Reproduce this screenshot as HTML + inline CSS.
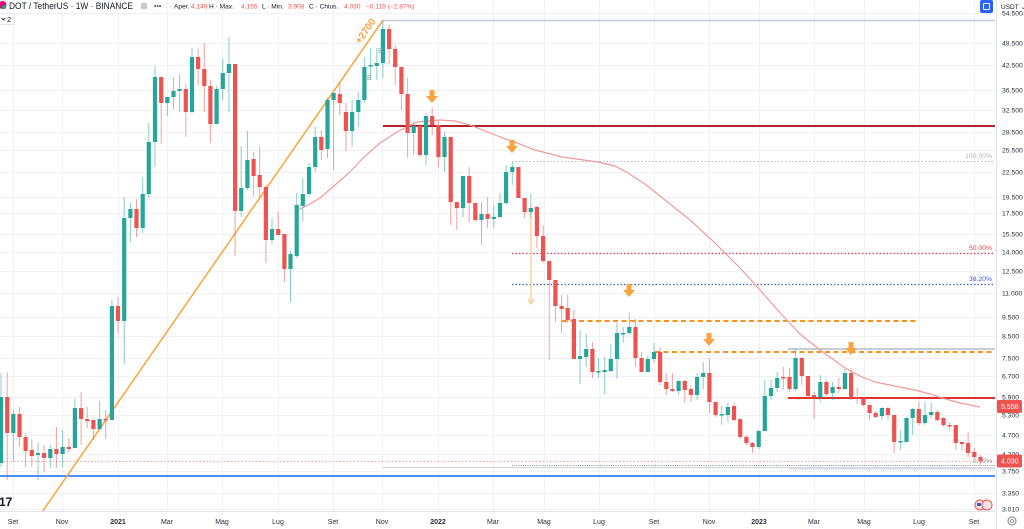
<!DOCTYPE html>
<html><head><meta charset="utf-8"><style>
html,body{margin:0;padding:0;background:#fff;}
body{width:1024px;height:529px;overflow:hidden;}
svg{display:block;font-family:"Liberation Sans",sans-serif;}
</style></head><body>
<svg width="1024" height="529" viewBox="0 0 1024 529" xmlns="http://www.w3.org/2000/svg">
<rect width="1024" height="529" fill="#fff"/>
<!-- grid -->
<g stroke="#eff1f5" stroke-width="1">
<path d="M13.5 0V511M62.5 0V511M118.5 0V511M167.5 0V511M222.5 0V511M278.5 0V511M333.5 0V511M382.5 0V511M438.5 0V511M493.5 0V511M544.5 0V511M599.5 0V511M654.5 0V511M709.5 0V511M759.5 0V511M814.5 0V511M864.5 0V511M919.5 0V511M974.5 0V511"/>
<path d="M0 13.5H996M0 43.5H996M0 65.5H996M0 90.5H996M0 110.5H996M0 132.5H996M0 150.5H996M0 172.5H996M0 197.5H996M0 213.5H996M0 234.5H996M0 252.5H996M0 271.5H996M0 293.5H996M0 317.5H996M0 336.5H996M0 358.5H996M0 376.5H996M0 397.5H996M0 415.5H996M0 435.5H996M0 454.5H996M0 471.5H996M0 493.5H996M0 509.5H996"/>
</g>
<!-- fib / level lines -->
<path d="M512 161.5H995" stroke="#b8bbc5" stroke-width="1" stroke-dasharray="1.5 2"/>
<path d="M512 253.5H995" stroke="#e0404c" stroke-width="1.2" stroke-dasharray="1.5 2"/>
<path d="M512 284.5H995" stroke="#2f5fc4" stroke-width="1.2" stroke-dasharray="1.5 2"/>
<path d="M0 461.5H995" stroke="#f5a3a3" stroke-width="1" stroke-dasharray="1.5 2"/>
<path d="M382 467.5H995" stroke="#d1d4dc" stroke-width="1"/>
<path d="M512 465.5H995" stroke="#8a8d96" stroke-width="1" stroke-dasharray="1 1.2"/>
<rect x="789" y="467" width="206" height="2.5" fill="#d8dbe3"/>
<path d="M0 476H995" stroke="#4f8ef7" stroke-width="2"/>
<path d="M383 20.5H995" stroke="#c5c8d6" stroke-width="1.5"/>
<path d="M383 126H995" stroke="#b0222e" stroke-width="2"/>
<path d="M788 349H995" stroke="#b8bbc5" stroke-width="1.5"/>
<path d="M788 398H995" stroke="#e0312f" stroke-width="2"/>
<path d="M562 321H918" stroke="#f7931e" stroke-width="2" stroke-dasharray="5 3.5"/>
<path d="M655 352H993" stroke="#f7931e" stroke-width="2" stroke-dasharray="5 3.5"/>
<!-- MA -->
<path d="M298 210L310 204L320 198L335 185L350 172L363 158L380 143L397 132L417 122L440 120L455 121L470 125L485 131L500 137L517 143L535 150L562 157L598 162L615 166L628 173L645 184L665 200L690 220L715 243L740 268L760 290L783 316L800 334L815 346L827 355L845 368L860 376L875 382L895 386L915 390L930 394L942 398L960 403L980 407" fill="none" stroke="#f19a9a" stroke-width="1.2"/>
<!-- trendline -->
<path d="M40 515L383 20" stroke="#f9a43c" stroke-width="1.5"/>
<text transform="translate(368,33) rotate(-55.3)" text-anchor="middle" font-weight="bold" font-size="10" fill="#f9a43c">+2700</text>
<!-- thin orange arrow -->
<path d="M531 212V303M528 299L531 304L534 299" stroke="#fbc98a" stroke-width="1.2" fill="none"/>
<!-- candles -->
<g stroke-width="1" fill="none">
<path stroke="#26a69a" stroke-opacity="0.55" d="M1 373V467M13.3 410V462M38 443V480M50.3 445V468M62.6 430V467M74.9 399V448M99.6 401V430M111.9 300V420M124.2 197V364M130.4 203V242M142.7 177V233M148.8 123V198M155 66V167M167.3 97V116M173.5 77V109M179.6 74V112M192 48V113M216.6 86V124M222.8 59V100M228.9 37V112M241.2 146V217M247.4 131V190M272 218V244M290.5 251V302M296.7 193V258M302.8 178V221M309 163V196M315.2 127V172M327.5 98V158M333.6 93V170M352.1 100V147M358.3 92V127M364.4 57V103M370.6 48V80M376.8 48V80M382.9 21V78M413.7 122V155M426 113V165M444.5 132V172M463 176V217M481.5 202V245M493.8 205V228M500 193V218M506.1 165V205M512.3 162V185M530.8 194V218M580 330V384M586.2 334V367M598.5 358V378M604.7 357V394M610.8 344V372M617 323V379M623.2 327V343M629.3 313V335M647.8 356V372M654 343V363M678.6 380V395M697.1 373V400M703.2 362V389M721.7 406V425M727.9 403V422M758.7 430V449M764.8 380V431M771 380V400M777.2 372V392M795.6 348V391M820.3 375V402M832.6 382V400M844.9 369V390M881.9 407V420M900.4 430V450M906.5 417V442M912.7 408V435M925 402V425M931.2 403V418"/>
<path stroke="#ef5350" stroke-opacity="0.55" d="M7.2 372V480M19.5 407V447M25.6 433V467M31.8 439V467M44.1 445V472M56.4 427V468M68.8 438V452M81.1 392V445M87.2 407V428M93.4 420V440M105.7 410V439M118 297V333M136.5 199V237M161.2 77V144M185.8 84V137M198.1 49V85M204.3 43V112M210.4 80V143M235.1 64V256M253.6 152V196M259.7 147V197M265.9 185V263M278.2 212V235M284.4 234V282M321.3 130V160M339.8 83V115M346 103V151M389.1 25V64M395.2 45V85M401.4 67V110M407.6 78V158M419.9 124V157M432.2 108V135M438.4 121V167M450.7 137V225M456.8 202V230M469.2 167V222M475.3 203V222M487.6 197V228M518.4 167V198M524.6 198V218M536.9 206V248M543.1 225V263M549.2 261V360M555.4 280V322M561.6 295V333M567.7 295V323M573.9 310V359M592.4 342V378M635.5 319V367M641.6 352V372M660.1 347V385M666.3 373V395M672.4 373V392M684.8 380V403M690.9 385V402M709.4 358V413M715.6 402V417M734 403V421M740.2 419V439M746.4 435V445M752.5 442V453M783.3 367V390M789.5 368V392M801.8 357V385M808 376V398M814.1 392V419M826.4 380V396M838.8 378V393M851.1 368V400M857.2 388V404M863.4 397V407M869.6 405V420M875.7 411V418M888 407V420M894.2 415V453M918.8 402V425M937.3 410V422M943.5 417V427M949.6 422V430M955.8 425V450M962 442V450M968.1 432V457M974.3 448V458M980.4 455V465"/>
</g>
<path fill="#26a69a" d="M-1.1 397h4.2V463h-4.2ZM11.2 414h4.2V433h-4.2ZM35.9 453h4.2V455h-4.2ZM48.2 449h4.2V458h-4.2ZM60.5 447h4.2V454h-4.2ZM72.8 408h4.2V448h-4.2ZM97.5 419h4.2V429h-4.2ZM109.8 306h4.2V420h-4.2ZM122.1 218h4.2V321h-4.2ZM128.3 209h4.2V218h-4.2ZM140.6 194h4.2V228h-4.2ZM146.7 142h4.2V194h-4.2ZM152.9 77h4.2V142h-4.2ZM165.2 97h4.2V103h-4.2ZM171.4 91h4.2V97h-4.2ZM177.5 89h4.2V91h-4.2ZM189.9 57h4.2V112h-4.2ZM214.5 89h4.2V124h-4.2ZM220.7 73h4.2V89h-4.2ZM226.8 64h4.2V73h-4.2ZM239.1 188h4.2V211h-4.2ZM245.3 160h4.2V188h-4.2ZM269.9 229h4.2V240h-4.2ZM288.4 254h4.2V269h-4.2ZM294.6 205h4.2V256h-4.2ZM300.7 194h4.2V206h-4.2ZM306.9 167h4.2V194h-4.2ZM313.1 137h4.2V167h-4.2ZM325.4 100h4.2V149h-4.2ZM331.5 93h4.2V100h-4.2ZM350 112h4.2V131h-4.2ZM356.2 100h4.2V112h-4.2ZM362.3 67h4.2V100h-4.2ZM368.5 65h4.2V66.5h-4.2ZM374.7 63h4.2V66h-4.2ZM380.8 29h4.2V63h-4.2ZM411.6 126h4.2V133h-4.2ZM423.9 116h4.2V155h-4.2ZM442.4 137h4.2V157h-4.2ZM460.9 176h4.2V208h-4.2ZM479.4 214h4.2V220h-4.2ZM491.7 217h4.2V219h-4.2ZM497.9 203h4.2V217h-4.2ZM504 172h4.2V203h-4.2ZM510.2 167h4.2V172h-4.2ZM528.7 208h4.2V212h-4.2ZM577.9 356h4.2V359h-4.2ZM584.1 349h4.2V357h-4.2ZM596.4 371h4.2V372.5h-4.2ZM602.6 370h4.2V372h-4.2ZM608.7 359h4.2V371h-4.2ZM614.9 333h4.2V359h-4.2ZM621.1 333h4.2V334.5h-4.2ZM627.2 327h4.2V333h-4.2ZM645.7 359h4.2V372h-4.2ZM651.9 352h4.2V359h-4.2ZM676.5 381h4.2V391h-4.2ZM695 377h4.2V395h-4.2ZM701.1 373h4.2V377h-4.2ZM719.6 414h4.2V415.5h-4.2ZM725.8 407h4.2V415h-4.2ZM756.6 431h4.2V447h-4.2ZM762.7 396h4.2V431h-4.2ZM768.9 388h4.2V396h-4.2ZM775.1 378h4.2V388h-4.2ZM793.5 358h4.2V389h-4.2ZM818.2 382h4.2V397h-4.2ZM830.5 387h4.2V393h-4.2ZM842.8 373h4.2V389h-4.2ZM879.8 408h4.2V416h-4.2ZM898.3 441h4.2V442.5h-4.2ZM904.4 418h4.2V442h-4.2ZM910.6 409h4.2V418h-4.2ZM922.9 415h4.2V423h-4.2ZM929.1 412h4.2V415h-4.2Z"/>
<path fill="#ef5350" d="M5.1 397h4.2V433h-4.2ZM17.4 414h4.2V437h-4.2ZM23.5 437h4.2V451h-4.2ZM29.7 450h4.2V456h-4.2ZM42 453h4.2V458h-4.2ZM54.3 449h4.2V454h-4.2ZM66.7 447h4.2V449h-4.2ZM79 408h4.2V419h-4.2ZM85.1 419h4.2V421h-4.2ZM91.3 420h4.2V429h-4.2ZM103.6 419h4.2V420.5h-4.2ZM115.9 306h4.2V321h-4.2ZM134.4 209h4.2V228h-4.2ZM159.1 77h4.2V103h-4.2ZM183.7 89h4.2V112h-4.2ZM196 57h4.2V69h-4.2ZM202.2 69h4.2V86h-4.2ZM208.3 86h4.2V124h-4.2ZM233 64h4.2V211h-4.2ZM251.5 159h4.2V176h-4.2ZM257.6 175h4.2V187h-4.2ZM263.8 187h4.2V240h-4.2ZM276.1 229h4.2V235h-4.2ZM282.3 234h4.2V269h-4.2ZM319.2 137h4.2V150h-4.2ZM337.7 94h4.2V103h-4.2ZM343.9 112h4.2V131h-4.2ZM387 29h4.2V49h-4.2ZM393.1 49h4.2V67h-4.2ZM399.3 67h4.2V94h-4.2ZM405.5 94h4.2V133h-4.2ZM417.8 126h4.2V155h-4.2ZM430.1 116h4.2V125h-4.2ZM436.3 125h4.2V157h-4.2ZM448.6 137h4.2V202h-4.2ZM454.7 202h4.2V208h-4.2ZM467.1 176h4.2V203h-4.2ZM473.2 203h4.2V220h-4.2ZM485.5 214h4.2V219h-4.2ZM516.3 167h4.2V198h-4.2ZM522.5 198h4.2V212h-4.2ZM534.8 207h4.2V236h-4.2ZM541 236h4.2V261h-4.2ZM547.1 261h4.2V280h-4.2ZM553.3 280h4.2V306h-4.2ZM559.5 306h4.2V309h-4.2ZM565.6 308h4.2V320h-4.2ZM571.8 319h4.2V359h-4.2ZM590.3 349h4.2V372h-4.2ZM633.4 327h4.2V358h-4.2ZM639.5 358h4.2V372h-4.2ZM658 352h4.2V382h-4.2ZM664.2 382h4.2V389h-4.2ZM670.3 389h4.2V391h-4.2ZM682.7 381h4.2V390h-4.2ZM688.8 389h4.2V395h-4.2ZM707.3 373h4.2V402h-4.2ZM713.5 402h4.2V415h-4.2ZM731.9 406h4.2V420h-4.2ZM738.1 419h4.2V437h-4.2ZM744.3 437h4.2V443h-4.2ZM750.4 443h4.2V447h-4.2ZM781.2 377h4.2V378.5h-4.2ZM787.4 377h4.2V389h-4.2ZM799.7 358h4.2V376h-4.2ZM805.9 376h4.2V396h-4.2ZM812 395h4.2V398h-4.2ZM824.3 382h4.2V394h-4.2ZM836.7 387h4.2V389h-4.2ZM849 373h4.2V398h-4.2ZM855.1 397h4.2V398.5h-4.2ZM861.3 398h4.2V405h-4.2ZM867.5 405h4.2V413h-4.2ZM873.6 413h4.2V417h-4.2ZM885.9 408h4.2V415h-4.2ZM892.1 415h4.2V442h-4.2ZM916.7 409h4.2V423h-4.2ZM935.2 412h4.2V420h-4.2ZM941.4 418h4.2V425h-4.2ZM947.5 425h4.2V426.5h-4.2ZM953.7 425h4.2V443h-4.2ZM959.9 442h4.2V444h-4.2ZM966 443h4.2V453h-4.2ZM972.2 452h4.2V457h-4.2ZM978.3 457h4.2V461h-4.2Z"/>
<!-- B markers -->
<text x="378" y="53" font-size="7" fill="#9598a1">B</text>
<text x="367" y="80" font-size="7" fill="#9598a1">B</text>
<!-- orange arrows -->
<g fill="#f9a43c">
<path d="M429.5 90h5v6h3.5l-6 7l-6-7h3.5Z"/>
<path d="M509.5 140h5v6h3.5l-6 7l-6-7h3.5Z"/>
<path d="M626.5 284h5v6h3.5l-6 7l-6-7h3.5Z"/>
<path d="M706.5 333h5v6h3.5l-6 7l-6-7h3.5Z"/>
<path d="M848.5 342h5v6h3.5l-6 7l-6-7h3.5Z"/>
</g>
<!-- fib labels -->
<g font-size="6.8" text-anchor="end">
<text x="992" y="158" fill="#b2b5be">100.00%</text>
<text x="992" y="250" fill="#e0404c">50.00%</text>
<text x="992" y="281" fill="#2f5fc4">38.20%</text>
<text x="992" y="463" fill="#9598a1">0.00%</text>
</g>
<!-- flags icon -->
<circle cx="980" cy="505" r="5" fill="#fbe3e3" stroke="#e55" stroke-width="1"/>
<circle cx="987" cy="505" r="5" fill="#fbe3e3" stroke="#e55" stroke-width="1"/>
<rect x="977" y="503" width="4" height="3" fill="#3860c8"/>
<!-- TV logo -->
<text x="-1" y="506" font-size="12" font-weight="bold" fill="#131722">17</text>
<!-- axes borders -->
<rect x="996" y="0" width="28" height="529" fill="#fff"/>
<rect x="0" y="512" width="1024" height="17" fill="#fff"/>
<path d="M996.5 0V529M0 511.5H996" stroke="#e0e3eb" stroke-width="1"/>
<!-- right axis labels -->
<g font-size="6.8" fill="#2a2e39">
<text x="1002" y="15.5">54.500</text>
<text x="1002" y="45.5">48.500</text>
<text x="1002" y="67.5">42.500</text>
<text x="1002" y="92.5">36.500</text>
<text x="1002" y="112.5">32.500</text>
<text x="1002" y="134.5">28.500</text>
<text x="1002" y="152.5">25.500</text>
<text x="1002" y="174.5">22.500</text>
<text x="1002" y="199.5">19.500</text>
<text x="1002" y="215.5">17.500</text>
<text x="1002" y="236.5">15.500</text>
<text x="1002" y="254.5">14.000</text>
<text x="1002" y="273.5">12.500</text>
<text x="1002" y="295.5">11.000</text>
<text x="1002" y="319.5">9.500</text>
<text x="1002" y="338.5">8.500</text>
<text x="1002" y="360.5">7.500</text>
<text x="1002" y="378.5">6.700</text>
<text x="1002" y="399.5">5.900</text>
<text x="1002" y="417.5">5.300</text>
<text x="1002" y="437.5">4.700</text>
<text x="1002" y="456.5">4.200</text>
<text x="1002" y="473.5">3.750</text>
<text x="1002" y="495.5">3.350</text>
<text x="1002" y="511.5">3.010</text>
</g>
<rect x="997" y="400" width="25" height="13" rx="1.5" fill="#ef5350"/>
<text x="1001" y="409" font-size="7" fill="#fff">5.558</text>
<rect x="997" y="454.5" width="25" height="13" rx="1.5" fill="#ef5350"/>
<text x="1001" y="463.5" font-size="7" fill="#fff">4.030</text>
<!-- top right -->
<rect x="980" y="0" width="13" height="13" rx="2" fill="#2962ff"/>
<rect x="983.5" y="3.5" width="6" height="6" rx="1" fill="none" stroke="#fff" stroke-width="1"/>
<text x="1001" y="9" font-size="6.5" fill="#131722">USDT ⌄</text>
<!-- bottom axis labels -->
<g font-size="7" fill="#2a2e39" text-anchor="middle">
<text x="13" y="524">Set</text>
<text x="62" y="524">Nov</text>
<text x="118" y="524" font-weight="bold">2021</text>
<text x="167" y="524">Mar</text>
<text x="222" y="524">Mag</text>
<text x="278" y="524">Lug</text>
<text x="333" y="524">Set</text>
<text x="382" y="524">Nov</text>
<text x="438" y="524" font-weight="bold">2022</text>
<text x="493" y="524">Mar</text>
<text x="544" y="524">Mag</text>
<text x="599" y="524">Lug</text>
<text x="654" y="524">Set</text>
<text x="709" y="524">Nov</text>
<text x="759" y="524" font-weight="bold">2023</text>
<text x="814" y="524">Mar</text>
<text x="864" y="524">Mag</text>
<text x="919" y="524">Lug</text>
<text x="974" y="524">Set</text>
</g>
<circle cx="1012" cy="521" r="4" fill="none" stroke="#787b86" stroke-width="1"/>
<circle cx="1012" cy="521" r="1.5" fill="none" stroke="#787b86" stroke-width="0.8"/>
<!-- header -->
<rect x="0" y="0" width="166" height="13" fill="#fff" opacity="0.9"/>
<circle cx="2.5" cy="5" r="4" fill="#e6007a"/>
<circle cx="4" cy="7" r="2.2" fill="#26a17b"/>
<text x="9" y="9.2" font-size="8.8" fill="#131722" textLength="124" lengthAdjust="spacingAndGlyphs">DOT / TetherUS · 1W · BINANCE</text>
<rect x="141" y="3" width="6" height="6" fill="#c7c9cf"/>
<text x="154" y="8.5" font-size="7" fill="#555">•••</text>
<g font-size="6.6" fill="#131722">
<text x="169" y="8.5">·</text>
<text x="174" y="8.5">Aper.</text>
<text x="191" y="8.5" fill="#ef5350">4.149</text>
<text x="209" y="8.5">H · Max.</text>
<text x="241" y="8.5" fill="#ef5350">4.155</text>
<text x="262" y="8.5">L · Min.</text>
<text x="288" y="8.5" fill="#ef5350">3.908</text>
<text x="309" y="8.5">C · Chius.</text>
<text x="344" y="8.5" fill="#ef5350">4.030</text>
<text x="366" y="8.5" fill="#ef5350">−0.119 (−2.87%)</text>
</g>
<rect x="-1" y="13.5" width="15" height="11" fill="#fff" stroke="#e0e3eb" stroke-width="1"/>
<path d="M1.5 18l1.8 2l1.8-2" fill="none" stroke="#131722" stroke-width="0.9"/>
<text x="7" y="22" font-size="7.5" fill="#131722">2</text>
</svg>
</body></html>
